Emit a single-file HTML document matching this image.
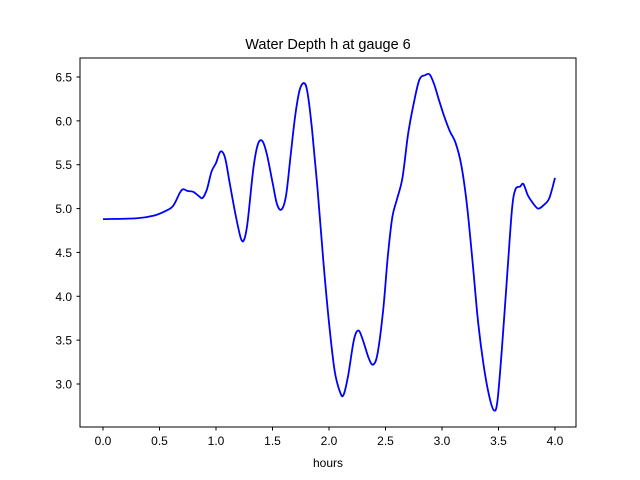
<!DOCTYPE html>
<html><head><meta charset="utf-8"><style>
body{margin:0;background:#fff;}
svg{display:block;font-family:"Liberation Sans","DejaVu Sans",sans-serif;}
</style></head><body>
<svg id="chart" width="640" height="480">
<rect width="640" height="480" fill="#fff"/>
<text x="328" y="49" font-size="14.5" text-anchor="middle">Water Depth h at gauge 6</text>
<g id="axes"></g>
<path id="line" fill="none" stroke="#0000ff" stroke-width="1.8"/>
<rect x="80" y="58" width="496" height="369" fill="none" stroke="#000" stroke-width="1"/>
<text x="328" y="467" font-size="12" text-anchor="middle">hours</text>
</svg>
<script>
const hours=[0,0.3,0.45,0.55,0.62,0.68,0.71,0.75,0.8,0.85,0.88,0.92,0.96,1.0,1.04,1.08,1.12,1.17,1.22,1.25,1.28,1.33,1.37,1.41,1.45,1.5,1.54,1.58,1.62,1.66,1.7,1.74,1.78,1.81,1.85,1.9,1.95,2.0,2.05,2.1,2.13,2.17,2.22,2.26,2.3,2.35,2.39,2.43,2.48,2.52,2.56,2.6,2.65,2.7,2.75,2.8,2.85,2.89,2.93,2.97,3.02,3.07,3.12,3.17,3.22,3.27,3.32,3.37,3.42,3.46,3.49,3.53,3.58,3.62,3.65,3.69,3.72,3.76,3.8,3.85,3.9,3.95,4.0];
const depth=[4.88,4.89,4.92,4.97,5.03,5.18,5.22,5.20,5.19,5.14,5.12,5.22,5.42,5.52,5.65,5.58,5.30,4.95,4.66,4.65,4.85,5.45,5.73,5.77,5.62,5.30,5.05,4.99,5.15,5.60,6.05,6.35,6.43,6.32,5.90,5.20,4.40,3.70,3.15,2.90,2.88,3.10,3.50,3.61,3.50,3.30,3.22,3.35,3.85,4.45,4.90,5.10,5.35,5.85,6.20,6.47,6.52,6.53,6.42,6.25,6.05,5.88,5.75,5.50,5.05,4.40,3.70,3.20,2.85,2.70,2.80,3.40,4.30,5.00,5.22,5.25,5.28,5.15,5.07,5.00,5.04,5.12,5.35];
const xTicks=[0,0.5,1,1.5,2,2.5,3,3.5,4];
const yTicks=[3,3.5,4,4.5,5,5.5,6,6.5];
const X=v=>103+v*113;
const Y=v=>384-(v-3)*87.714;
const NS='http://www.w3.org/2000/svg';
const ax=document.getElementById('axes');
function mk(t,a){const e=document.createElementNS(NS,t);for(const k in a)e.setAttribute(k,a[k]);ax.appendChild(e);return e;}
xTicks.forEach(v=>{
 const l=mk('line',{x1:X(v),x2:X(v),y1:427,y2:430.5,stroke:'#000'});
 
 
 const t=mk('text',{x:X(v),y:445,'font-size':12,'text-anchor':'middle'});
 t.textContent=v.toFixed(1);
 
 
});
yTicks.forEach(v=>{
 const l=mk('line',{x1:76.5,x2:80,y1:Y(v),y2:Y(v),stroke:'#000'});
 
 
 const t=mk('text',{x:72,y:Y(v)+4.5,'font-size':12,'text-anchor':'end'});
 t.textContent=v.toFixed(1);
 
 
});
const p=hours.map((h,i)=>[X(h),Y(depth[i])]);
let d='M'+p[0][0]+','+p[0][1];
for(let i=0;i<p.length-1;i++){
 const p0=p[Math.max(0,i-1)],p1=p[i],p2=p[i+1],p3=p[Math.min(p.length-1,i+2)];
 const c1=[p1[0]+(p2[0]-p0[0])/6,p1[1]+(p2[1]-p0[1])/6];
 const c2=[p2[0]-(p3[0]-p1[0])/6,p2[1]-(p3[1]-p1[1])/6];
 d+=' C'+c1+' '+c2+' '+p2;
}
document.getElementById('line').setAttribute('d',d);
</script>
</body></html>
